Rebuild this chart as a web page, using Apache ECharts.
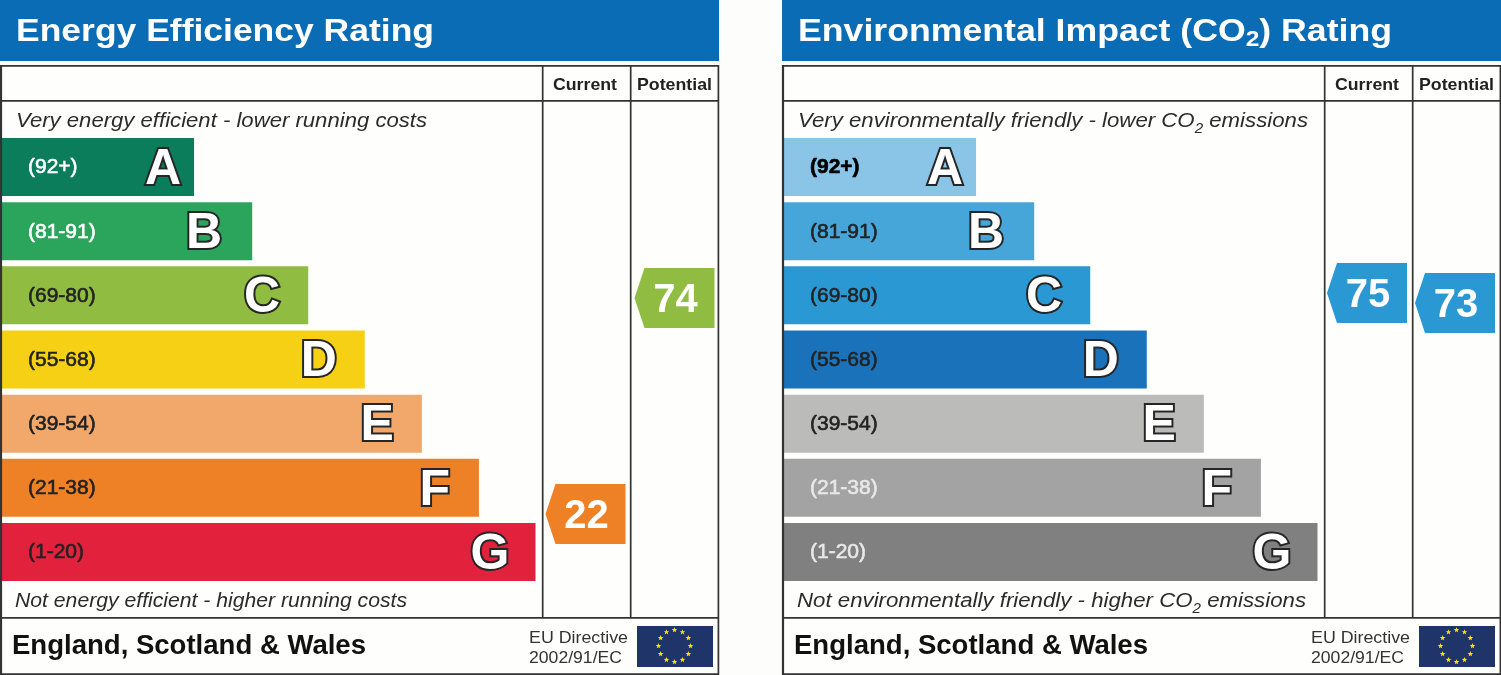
<!DOCTYPE html>
<html><head><meta charset="utf-8">
<style>html,body{margin:0;padding:0;background:#fdfdfb}#c{width:1501px;height:675px}</style>
<script src="https://cdn.jsdelivr.net/npm/echarts@6/dist/echarts.min.js"></script>
</head><body><div id="c"></div>
<script>
const categories = ['A','B','C','D','E','F','G'];
const ranges = ['(92+)','(81-91)','(69-80)','(55-68)','(39-54)','(21-38)','(1-20)'];
const barLengths = [36, 46.9, 57.4, 68, 78.7, 89.4, 100];
const columns = ['Current','Potential'];
const energyScores = [22, 74];
const environmentScores = [75, 73];
const energyColors = ['#0b7d5a','#2ba55c','#8fbc41','#f6d014','#f3a86b','#ee8026','#e2213c'];
const environmentColors = ['#8ac4e6','#46a6da','#2a99d3','#1a73ba','#bbbcb9','#a3a3a3','#808080'];
const energyRangeInk = ['#fff','#fff','#222','#222','#222','#222','#222'];
const environmentRangeInk = ['#000','#222','#222','#222','#222','#e8e8e8','#e8e8e8'];
const letterInset = [13,30,28,28,28,29,26];
const FF = '"Liberation Sans", Arial, sans-serif';
const BG = '#fdfdfb', LINE = '#333', HEAD = '#0a6cb4';

const mc = document.createElement('canvas').getContext('2d');
function measure(segs){
  let w = 0;
  segs.forEach(s=>{ mc.font = `${s.style||'normal'} ${s.weight||'normal'} ${s.size}px ${FF}`; w += mc.measureText(s.t).width; });
  return w;
}
function fitted(x, y, width, segs, fill, z){
  const rich = {}; let text = '';
  segs.forEach((s,i)=>{
    const k = 's'+i; text += `{${k}|${s.t}}`;
    rich[k] = {fontFamily:FF, fontSize:s.size, fontWeight:s.weight||'normal', fontStyle:s.style||'normal', fill, lineHeight:s.lh||s.size+8, verticalAlign:s.sub?'bottom':'middle'};
  });
  return {type:'text', x, y, scaleX: width/measure(segs), z:z||10, silent:true,
    style:{text, rich, fill, align:'left', verticalAlign:'middle'}};
}
function hline(x1,x2,y,w){return {type:'line',z:6,silent:true,shape:{x1,y1:y,x2,y2:y},style:{stroke:LINE,lineWidth:w||1.7}};}
function vline(x,y1,y2,w){return {type:'line',z:6,silent:true,shape:{x1:x,y1,x2:x,y2},style:{stroke:LINE,lineWidth:w||1.7}};}
function starPts(cx,cy,r){
  const p=[]; for(let i=0;i<10;i++){const a=-Math.PI/2+i*Math.PI/5,q=i%2?r*0.42:r;p.push([cx+q*Math.cos(a),cy+q*Math.sin(a)]);} return p;
}

const panels = [
 {dx:0, colors:energyColors, ink:energyRangeInk, scores:energyScores, tagColors:['#ee8026','#8fbc41'],
  tagGrid:{left:541,width:178,top:190,height:415.4},
  title:[{t:'Energy Efficiency Rating',size:32,weight:'bold'}], titleW:418,
  top:[{t:'Very energy efficient - lower running costs',size:20.5,style:'italic'}], topW:411,
  bot:[{t:'Not energy efficient - higher running costs',size:20.5,style:'italic'}], botW:392},
 {dx:782, colors:environmentColors, ink:environmentRangeInk, scores:environmentScores, tagColors:['#2a99d3','#2a99d3'],
  tagGrid:{left:1323,width:176,top:168,height:500},
  title:[{t:'Environmental Impact (CO',size:32,weight:'bold',lh:38},{t:'2',size:22,weight:'bold',sub:1,lh:22},{t:') Rating',size:32,weight:'bold',lh:38}], titleW:594,
  top:[{t:'Very environmentally friendly - lower CO',size:20.5,style:'italic',lh:30},{t:'2',size:14,style:'italic',sub:1,lh:14},{t:' emissions',size:20.5,style:'italic',lh:30}], topW:510,
  bot:[{t:'Not environmentally friendly - higher CO',size:20.5,style:'italic',lh:30},{t:'2',size:14,style:'italic',sub:1,lh:14},{t:' emissions',size:20.5,style:'italic',lh:30}], botW:509}
];

const grids=[], xAxes=[], yAxes=[], series=[], graphic=[];
panels.forEach((p,n)=>{
  const d=p.dx, gi=n*2;
  grids.push({left:2+d,width:533.5,top:135,height:449});
  grids.push(p.tagGrid);
  xAxes.push({gridIndex:gi,type:'value',min:0,max:100,show:false});
  yAxes.push({gridIndex:gi,type:'category',data:categories,inverse:true,show:false});
  xAxes.push({gridIndex:gi+1,type:'category',data:columns,show:false});
  yAxes.push({gridIndex:gi+1,type:'value',min:0,max:100,show:false});
  series.push({type:'bar',xAxisIndex:gi,yAxisIndex:gi,barWidth:58,barGap:'-100%',animation:false,silent:true,z:3,
    data:barLengths.map((v,i)=>({value:v,itemStyle:{color:p.colors[i]},
      label:{show:true,position:'insideLeft',distance:26,formatter:ranges[i],color:p.ink[i],offset:[0,0.5],
        fontFamily:FF,fontSize:21,fontWeight:(n===1&&i===0)?'bold':'normal',textBorderColor:p.ink[i],textBorderWidth:0.6}}))});
  series.push({type:'bar',xAxisIndex:gi,yAxisIndex:gi,barWidth:58,barGap:'-100%',animation:false,silent:true,z:4,
    itemStyle:{color:'transparent'},
    data:barLengths.map((v,i)=>({value:v,
      label:{show:true,position:'insideRight',distance:letterInset[i],offset:[0,3],formatter:categories[i],color:'#fff',
        fontFamily:FF,fontSize:50,fontWeight:'bold',textBorderColor:'#262626',textBorderWidth:4}}))});
  series.push({type:'custom',xAxisIndex:gi+1,yAxisIndex:gi+1,animation:false,silent:true,z:5,
    data:p.scores.map((s,i)=>[i,s]),
    encode:{x:0,y:1},
    renderItem:(params,api)=>{
      const c=api.coord([api.value(0),api.value(1)]), cx=c[0], cy=c[1], col=p.tagColors[params.dataIndex];
      return {type:'group',children:[
        {type:'polygon',shape:{points:[[cx-30,cy-30],[cx+40,cy-30],[cx+40,cy+30],[cx-30,cy+30],[cx-40,cy]]},style:{fill:col}},
        {type:'text',style:{text:String(api.value(1)),x:cx+1,y:cy+3,align:'center',verticalAlign:'middle',fill:'#fff',
          fontFamily:FF,fontWeight:'bold',fontSize:40}}
      ]};
    }});

  // header band, frame, table rules
  graphic.push({type:'rect',z:1,silent:true,shape:{x:d,y:0,width:719,height:61},style:{fill:HEAD}});
  graphic.push({type:'rect',z:1,silent:true,shape:{x:1+d,y:65,width:717,height:609},style:{fill:'#fefefc'}});
  graphic.push(hline(d,719+d,65.8), hline(d,719+d,100.9), hline(d,719+d,617.8), hline(d,719+d,674.2));
  graphic.push(vline(1+d,65,675,2.2), vline(718.4+d,65,675), vline(542.7+d,65,618), vline(630.7+d,65,618));
  graphic.push(fitted(16+d,32,p.titleW,p.title,'#fff'));
  graphic.push(fitted(16+d,121,p.topW,p.top,'#2b2b2b'));
  graphic.push(fitted(15+d,601,p.botW,p.bot,'#2b2b2b'));
  graphic.push(fitted(553+d,85,64,[{t:columns[0],size:17,weight:'bold'}],'#222'));
  graphic.push(fitted(637+d,85,75,[{t:columns[1],size:17,weight:'bold'}],'#222'));
  graphic.push(fitted(12+d,647,354,[{t:'England, Scotland & Wales',size:27,weight:'bold'}],'#111'));
  graphic.push(fitted(529+d,638,99,[{t:'EU Directive',size:17}],'#333'));
  graphic.push(fitted(529+d,658,93,[{t:'2002/91/EC',size:17}],'#333'));
  graphic.push({type:'rect',z:9,silent:true,shape:{x:637+d,y:626,width:76,height:41},style:{fill:'#1f3468'}});
  for(let i=0;i<12;i++){
    const a=i*Math.PI/6;
    graphic.push({type:'polygon',z:10,silent:true,shape:{points:starPts(674.5+d+16*Math.sin(a),646-16*Math.cos(a),2.9)},style:{fill:'#ffe01a'}});
  }
});

const chart = echarts.init(document.getElementById('c'),null,{renderer:'canvas',width:1501,height:675});
chart.setOption({animation:false,backgroundColor:BG,grid:grids,xAxis:xAxes,yAxis:yAxes,series,graphic:{elements:graphic}});
</script></body></html>
